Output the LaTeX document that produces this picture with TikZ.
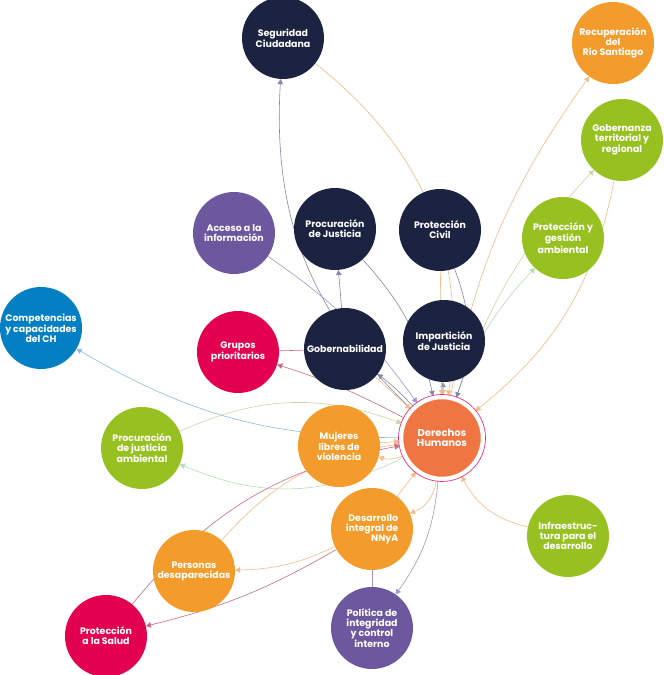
\documentclass[tikz,border=0pt]{standalone}
\usepackage{fontspec}
\setmainfont{Poppins}
\usetikzlibrary{arrows.meta,backgrounds}

\definecolor{cnavy}{HTML}{1B2340}
\definecolor{corange}{HTML}{F39C2B}
\definecolor{cgreen}{HTML}{96C121}
\definecolor{cpurple}{HTML}{6D58A0}
\definecolor{cred}{HTML}{E3004F}
\definecolor{cblue}{HTML}{0380C3}
\definecolor{dhorange}{HTML}{EF7542}
\definecolor{dhpink}{HTML}{E5337C}
% connector colours
\definecolor{peach}{HTML}{F5B98A}
\definecolor{slate}{HTML}{7F88A5}
\definecolor{sage}{HTML}{C9D4A8}
\definecolor{mint}{HTML}{B5DCB4}
\definecolor{lilac}{HTML}{A393CB}
\definecolor{rose}{HTML}{C86A7E}
\definecolor{sky}{HTML}{86BCDD}

\tikzset{
  topic/.style={circle, minimum size=82pt, inner sep=0pt, text=white, align=center,
    font=\bfseries\fontsize{9.4}{10}\selectfont},
  navy/.style={topic, fill=cnavy},
  orng/.style={topic, fill=corange},
  grn/.style={topic, fill=cgreen},
  purp/.style={topic, fill=cpurple},
  redc/.style={topic, fill=cred},
  blu/.style={topic, fill=cblue},
  hub/.style={topic, minimum size=80pt, fill=dhorange, draw=white, line width=2.5pt, outer sep=3pt,
    font=\bfseries\fontsize{10}{10.5}\selectfont},
  link/.style={draw=#1, line width=0.6pt, -{Triangle[width=5.5pt,length=5pt]}},
  plain/.style={draw=#1, line width=0.6pt},
}

\begin{document}
\begin{tikzpicture}[x=1pt,y=1pt]
  \useasboundingbox (0,0) rectangle (664,675);

  % circles
  \node[navy] (seg) at (283,637) {Seguridad\\Ciudadana};
  \node[orng] (rio) at (613,632) {Recuperación\\del\\Rio Santiago};
  \node[grn] (gobterr) at (622,535) {Gobernanza\\territorial y\\regional};
  \node[grn] (pga) at (563,437) {Protección y\\gestión\\ambiental};
  \node[navy] (pcivil) at (440,445) {Protección\\Civil};
  \node[navy] (pjus) at (335,446) {Procuración\\de Justicia};
  \node[purp] (acceso) at (234,442) {Acceso a la\\información};
  \node[navy] (gobern) at (345,326) {Gobernabilidad};
  \node[navy] (impart) at (444,334) {Impartición\\de Justicia};
  \node[hub] (dh) at (442,237) {Derechos\\Humanos};
  \draw[dhpink, line width=0.7pt] (dh.center) circle (43.5);
  \node[orng] (mujeres) at (339,229) {Mujeres\\libres de\\violencia};
  \node[orng, align=right] (nnya) at (372,146) {Desarrollo\\integral de\\NNyA};
  \node[purp] (politica) at (372,47) {Política de\\integridad\\y control\\interno};
  \node[orng] (personas) at (194,104) {Personas\\desaparecidas};
  \node[redc] (salud) at (106,39) {Protección\\a la Salud};
  \node[grn] (infra) at (568,139) {Infraestruc-\\tura para el\\desarrollo};
  \node[redc] (grupos) at (238,323) {Grupos\\prioritarios};
  \node[blu] (compet) at (41,347) {Competencias\\y capacidades\\del CH};
  \node[grn] (pja) at (142,227) {Procuración\\de justicia\\ambiental};

  \begin{scope}[on background layer]
    % out of Derechos Humanos
    \draw[link=peach] (dh) to[bend left=12] (rio);
    \draw[link=sage] (dh) to[bend left=12] (gobterr);
    \draw[link=mint] (dh) to[bend left=12] (pga);
    \draw[link=slate] (dh) to[bend left=25] (seg);
    \draw[link=slate] (dh) to[bend right=5] (gobern);
    \draw[link=slate] (dh) -- (impart);
    \draw[link=rose] (dh) to[bend right=5] (grupos);
    \draw[link=sky] (dh) to[bend left=15] (compet);
    \draw[link=mint] (dh) to[bend left=25] (pja);
    \draw[link=peach] (dh) to[bend left=20] (mujeres);
    \draw[link=peach] (dh) to[bend left=30] (nnya);
    \draw[link=lilac] (dh) to[bend left=15] (politica);
    % out of NNyA
    \draw[link=peach] (nnya) to[bend left=12] (personas);
    \draw[link=rose] (nnya) to[bend left=8] (salud);
    \draw[plain=lilac] (nnya) -- (politica);
    % into Derechos Humanos
    \draw[link=peach] (gobterr) to[bend left=20] (dh);
    \draw[link=peach] (infra) to[bend left=25] (dh);
    \draw[link=peach] (seg) to[bend left=30] (dh);
    \draw[link=peach] (pcivil) -- (dh);
    \draw[link=slate] (pcivil) to[bend left=20] (dh);
    \draw[link=slate] (pjus) to[bend left=15] (dh);
    \draw[link=lilac] (acceso) to[bend left=10] (dh);
    \draw[link=peach] (gobern) -- (dh);
    \draw[link=peach] (impart) -- (dh);
    \draw[link=peach] (mujeres) -- (dh);
    \draw[link=peach] (nnya) -- (dh);
    \draw[link=peach] (personas) to[bend left=20] (dh);
    \draw[link=rose] (salud) to[bend left=20] (dh);
    \draw[link=sage] (pja) to[bend left=22] (dh);
    % others
    \draw[link=slate] (gobern) -- (pjus);
    \draw[plain=rose] (grupos) -- (gobern);
  \end{scope}
\end{tikzpicture}
\end{document}
